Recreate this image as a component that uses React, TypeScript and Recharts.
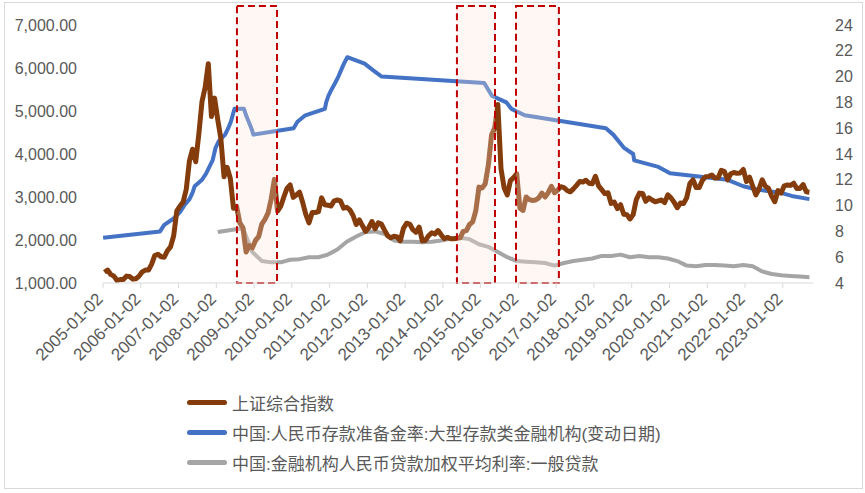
import React from "react";
import { ComposedChart, Line, XAxis, YAxis, ReferenceArea } from "recharts";

const FONT = '"Liberation Sans", "Noto Sans CJK SC", sans-serif';
const TEXT = "#595959";

// 上证综合指数, monthly from 2005-01
const indexStart = 2005;
const shIndex = [
  1250, 1300, 1200, 1160, 1060, 1080, 1080, 1160, 1150, 1090, 1100, 1160,
  1260, 1300, 1300, 1440, 1640, 1670, 1610, 1600, 1750, 1840, 2100, 2680,
  2790, 2880, 3180, 3840, 4110, 3820, 4470, 5220, 5550, 6100, 4870, 5300,
  4800, 4350, 3470, 3690, 3430, 2740, 2780, 2400, 2290, 1720, 1870, 1820,
  1990, 2080, 2370, 2480, 2630, 2960, 3410, 2670, 2780, 3000, 3200, 3280,
  2990, 3050, 3110, 2870, 2590, 2400, 2640, 2640, 2660, 2980, 2820, 2810,
  2790, 2910, 2930, 2910, 2740, 2760, 2700, 2570, 2360, 2470, 2330, 2200,
  2290, 2430, 2260, 2400, 2370, 2230, 2100, 2050, 2090, 2070, 1980, 2270,
  2390, 2370, 2240, 2180, 2300, 1980, 1990, 2100, 2170, 2140, 2220, 2120,
  2030, 2060, 2030, 2030, 2040, 2050, 2200, 2220, 2360, 2420, 2680, 3230,
  3210, 3310, 3750, 4440, 4610, 5150, 3660, 3210, 3050, 3380, 3450, 3540,
  2740, 2690, 3000, 2940, 2920, 2930, 2980, 3090, 3000, 3100, 3250, 3100,
  3160, 3240, 3220, 3150, 3120, 3190, 3270, 3360, 3350, 3390, 3320, 3310,
  3480, 3260, 3170, 3080, 3100, 2850, 2880, 2730, 2820, 2600, 2590, 2490,
  2590, 2940, 3090, 3080, 2900, 2980, 2930, 2890, 2910, 2930, 2870, 3050,
  2980, 2880, 2750, 2860, 2850, 2980, 3310, 3400, 3220, 3220, 3390, 3470,
  3480, 3510, 3440, 3450, 3620, 3590, 3400, 3540, 3570, 3550, 3560, 3640,
  3360, 3460, 3250, 3050, 3190, 3400, 3250, 3200, 3020, 2890, 3150, 3090,
  3260, 3280, 3270, 3320, 3200, 3200, 3290, 3120, 3110,
];

// 人民币存款准备金率: 大型存款类金融机构 (change dates)
const rrrDates = [
  "2005-01-02", "2006-07-05", "2006-08-15", "2006-11-15", "2007-01-15", "2007-02-25",
  "2007-04-16", "2007-05-15", "2007-06-05", "2007-08-15", "2007-09-25", "2007-10-25",
  "2007-11-26", "2007-12-25", "2008-01-25", "2008-03-25", "2008-04-25", "2008-05-20",
  "2008-06-25", "2008-09-25", "2008-10-15", "2008-12-05", "2008-12-25", "2010-01-18",
  "2010-02-25", "2010-05-10", "2010-11-16", "2010-11-29", "2010-12-20", "2011-01-20",
  "2011-02-24", "2011-03-25", "2011-04-21", "2011-05-18", "2011-06-20", "2011-12-05",
  "2012-02-24", "2012-05-18", "2015-02-05", "2015-04-20", "2015-09-06", "2015-10-24",
  "2016-03-01", "2018-04-25", "2018-07-05", "2018-10-15", "2019-01-15", "2019-01-25",
  "2019-09-16", "2020-01-06", "2021-07-15", "2021-12-15", "2022-04-25", "2022-12-05",
  "2023-03-27", "2023-09-15",
];
const rrrValues = [
  7.5, 8.0, 8.5, 9.0, 9.5, 10.0,
  10.5, 11.0, 11.5, 12.0, 12.5, 13.0,
  13.5, 14.5, 15.0, 15.5, 16.0, 16.5,
  17.5, 17.5, 17.0, 16.0, 15.5, 16.0,
  16.5, 17.0, 17.5, 18.0, 18.5, 19.0,
  19.5, 20.0, 20.5, 21.0, 21.5, 21.0,
  20.5, 20.0, 19.5, 18.5, 18.0, 17.5,
  17.0, 16.0, 15.5, 14.5, 14.0, 13.5,
  13.0, 12.5, 12.0, 11.5, 11.25, 11.0,
  10.75, 10.5,
];

// 金融机构人民币贷款加权平均利率: 一般贷款 (quarterly)
const loanDates = [
  "2008-01", "2008-09", "2008-12", "2009-03", "2009-06", "2009-09", "2009-12",
  "2010-03", "2010-06", "2010-09", "2010-12", "2011-03", "2011-06", "2011-09", "2011-12",
  "2012-03", "2012-06", "2012-09", "2012-12", "2013-03", "2013-06", "2013-09", "2013-12",
  "2014-03", "2014-06", "2014-09", "2014-12", "2015-03", "2015-06", "2015-09", "2015-12",
  "2016-03", "2016-06", "2016-09", "2016-12", "2017-03", "2017-06", "2017-09", "2017-12",
  "2018-03", "2018-06", "2018-09", "2018-12", "2019-03", "2019-06", "2019-09", "2019-12",
  "2020-03", "2020-06", "2020-09", "2020-12", "2021-03", "2021-06", "2021-09", "2021-12",
  "2022-03", "2022-06", "2022-09", "2022-12", "2023-03", "2023-06", "2023-09",
];
const loanValues = [
  7.95, 8.25, 6.4, 5.7, 5.6, 5.6, 5.8,
  5.85, 6.0, 6.0, 6.2, 6.6, 7.2, 7.6, 7.95,
  8.0, 7.8, 7.3, 7.2, 7.2, 7.15, 7.2, 7.3,
  7.45, 7.5, 7.4, 7.0, 6.8, 6.4, 6.0, 5.7,
  5.65, 5.6, 5.55, 5.35, 5.55, 5.7, 5.8, 5.9,
  6.1, 6.1, 6.2, 6.0, 6.1, 6.0, 6.0, 5.9,
  5.7, 5.35, 5.3, 5.4, 5.4, 5.35, 5.3, 5.4,
  5.3, 4.9, 4.7, 4.6, 4.55, 4.5, 4.45,
];

const yearTicks = [
  2005, 2006, 2007, 2008, 2009, 2010, 2011, 2012, 2013, 2014,
  2015, 2016, 2017, 2018, 2019, 2020, 2021, 2022, 2023,
];
const leftTicks = [1000, 2000, 3000, 4000, 5000, 6000, 7000];
const rightTicks = [4, 6, 8, 10, 12, 14, 16, 18, 20, 22, 24];

const periods = [
  ["2008-07-18", "2009-08-10"],
  ["2014-05-15", "2015-05-18"],
  ["2015-12-08", "2017-01-27"],
];

const legendItems = [
  { name: "上证综合指数", color: "#843c0c" },
  { name: "中国:人民币存款准备金率:大型存款类金融机构(变动日期)", color: "#4472c4" },
  { name: "中国:金融机构人民币贷款加权平均利率:一般贷款", color: "#a5a5a5" },
];

function toYear(d: string) {
  const [y, m, day] = d.split("-").map(Number);
  return y + (m - 1) / 12 + ((day ?? 15) - 1) / 365;
}

function buildRows() {
  const map = new Map<number, any>();
  const put = (t: number, key: string, v: number) => {
    const k = Math.round(t * 10000) / 10000;
    const row = map.get(k) ?? { t: k };
    row[key] = v;
    map.set(k, row);
  };
  shIndex.forEach((v, i) => {
    const y = indexStart + Math.floor(i / 12);
    const m = (i % 12) + 1;
    put(toYear(`${y}-${String(m).padStart(2, "0")}`), "idx", v);
  });
  rrrDates.forEach((d, i) => put(toYear(d), "rrr", rrrValues[i]));
  loanDates.forEach((d, i) => put(toYear(d), "loan", loanValues[i]));
  return [...map.values()].sort((a, b) => a.t - b.t);
}

const data = buildRows();

function YearTick({ x, y, payload }: any) {
  const ax = x + 1;
  const ay = y + 10;
  return (
    <text
      x={ax}
      y={ay}
      transform={`rotate(-45 ${ax} ${ay})`}
      textAnchor="end"
      fill={TEXT}
      fontSize={17}
      fontFamily={FONT}
    >
      {`${payload.value}-01-02`}
    </text>
  );
}

export default function App() {
  return (
    <div
      style={{
        position: "fixed",
        left: 0,
        top: 0,
        width: 865,
        height: 493,
        background: "#fff",
        fontFamily: FONT,
      }}
    >
      <div
        style={{
          position: "absolute",
          left: 4,
          top: 2,
          width: 857,
          height: 485,
          border: "1px solid #d9d9d9",
        }}
      />
      <div style={{ position: "absolute", left: 0, top: 0 }}>
        <ComposedChart
          width={865}
          height={380}
          data={data}
          margin={{ top: 6, right: 0, left: 0, bottom: 0 }}
        >
          <XAxis
            dataKey="t"
            type="number"
            domain={[2005, 2023.8]}
            ticks={yearTicks}
            interval={0}
            tick={<YearTick />}
            height={97}
            stroke="#d9d9d9"
            tickSize={5}
            allowDataOverflow
          />
          <YAxis
            yAxisId="left"
            domain={[1000, 7442]}
            ticks={leftTicks}
            width={103}
            axisLine={false}
            tickLine={false}
            tickMargin={20}
            tick={{ fill: TEXT, fontSize: 16, fontFamily: FONT }}
            tickFormatter={(v: number) =>
              v.toLocaleString("en-US", { minimumFractionDigits: 2 })
            }
            allowDataOverflow
          />
          <YAxis
            yAxisId="right"
            orientation="right"
            domain={[4, 25.47]}
            ticks={rightTicks}
            width={52}
            axisLine={false}
            tickLine={false}
            tickMargin={16}
            tick={{ fill: TEXT, fontSize: 16, fontFamily: FONT, textAnchor: "start" }}
            allowDataOverflow
          />
          <Line
            yAxisId="right"
            dataKey="loan"
            name="中国:金融机构人民币贷款加权平均利率:一般贷款"
            stroke="#a5a5a5"
            strokeWidth={4}
            dot={false}
            connectNulls
            strokeLinejoin="round"
            isAnimationActive={false}
          />
          <Line
            yAxisId="right"
            dataKey="rrr"
            name="中国:人民币存款准备金率:大型存款类金融机构(变动日期)"
            stroke="#4472c4"
            strokeWidth={4}
            dot={false}
            connectNulls
            strokeLinejoin="round"
            isAnimationActive={false}
          />
          <Line
            yAxisId="left"
            dataKey="idx"
            name="上证综合指数"
            stroke="#843c0c"
            strokeWidth={5}
            dot={false}
            connectNulls
            strokeLinejoin="round"
            isAnimationActive={false}
          />
          {periods.map(([a, b]) => (
            <ReferenceArea
              key={a}
              yAxisId="left"
              x1={toYear(a)}
              x2={toYear(b)}
              fill="#fbe5d6"
              fillOpacity={0.3}
              stroke="#c00000"
              strokeWidth={2}
              strokeDasharray="7 4"
              zIndex={450}
              ifOverflow="visible"
            />
          ))}
        </ComposedChart>
      </div>
      {legendItems.map((item, i) => (
        <div
          key={item.name}
          style={{
            position: "absolute",
            left: 187,
            top: 391 + i * 30,
            height: 22,
            display: "flex",
            alignItems: "center",
            color: TEXT,
            fontSize: 17,
            whiteSpace: "nowrap",
          }}
        >
          <span
            style={{
              display: "inline-block",
              width: 40,
              height: 5,
              borderRadius: 3,
              background: item.color,
              marginRight: 5,
            }}
          />
          <span>{item.name}</span>
        </div>
      ))}
    </div>
  );
}
